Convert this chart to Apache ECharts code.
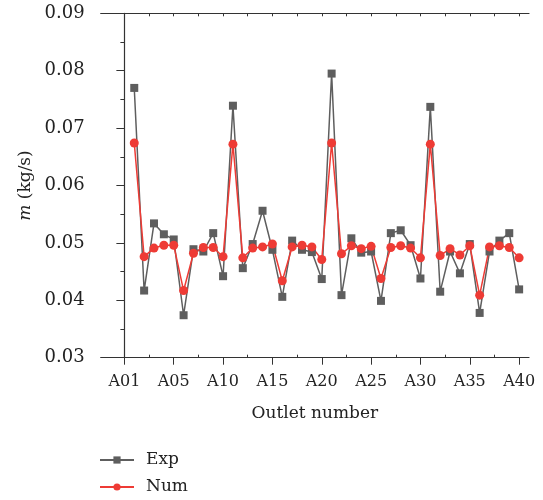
<!DOCTYPE html>
<html>
<head>
<meta charset="utf-8">
<script src="https://cdn.jsdelivr.net/npm/echarts@6/dist/echarts.min.js"></script>
<style>
  html, body { margin: 0; padding: 0; background: #fff; }
  #main { width: 543px; height: 500px; }
</style>
</head>
<body>
<div id="main"></div>
<script>
    // outlet index 1..40 (A01..A40)
    var outlets = [];
    for (var i = 1; i <= 40; i++) outlets.push(i);

    var expData = [0.0770, 0.0417, 0.0534, 0.0515, 0.0506, 0.0374, 0.0489, 0.0485, 0.0517, 0.0442,
                   0.0739, 0.0456, 0.0498, 0.0556, 0.0488, 0.0406, 0.0504, 0.0488, 0.0484, 0.0437,
                   0.0795, 0.0409, 0.0508, 0.0483, 0.0485, 0.0399, 0.0517, 0.0522, 0.0496, 0.0438,
                   0.0737, 0.0415, 0.0485, 0.0447, 0.0498, 0.0378, 0.0485, 0.0504, 0.0517, 0.0419];
    var numData = [0.0674, 0.0476, 0.0491, 0.0496, 0.0496, 0.0417, 0.0482, 0.0492, 0.0492, 0.0476,
                   0.0672, 0.0474, 0.0491, 0.0493, 0.0498, 0.0434, 0.0493, 0.0496, 0.0493, 0.0471,
                   0.0674, 0.0481, 0.0495, 0.0490, 0.0494, 0.0438, 0.0492, 0.0495, 0.0491, 0.0474,
                   0.0672, 0.0478, 0.0490, 0.0479, 0.0495, 0.0409, 0.0493, 0.0495, 0.0492, 0.0474];

    var tickValues = [0, 5, 10, 15, 20, 25, 30, 35, 40];
    var tickLabels = ['A01', 'A05', 'A10', 'A15', 'A20', 'A25', 'A30', 'A35', 'A40'];
    var minorValues = [2.5, 7.5, 12.5, 17.5, 22.5, 27.5, 32.5, 37.5];

    var font = 'DejaVu Serif';
    var ink = '#222';
    var gray = '#5e5e5e';
    var red = '#ee3b35';

    function pairs(vals) {
        var out = [];
        for (var k = 0; k < vals.length; k++) out.push([outlets[k], vals[k]]);
        return out;
    }

    var option = {
        animation: false,
        backgroundColor: '#fff',
        textStyle: { fontFamily: font },
        grid: { left: 100.7, right: 14, top: 13.3, bottom: 142.3 },
        legend: {
            orient: 'vertical',
            left: 99,
            top: 451,
            padding: 0,
            itemWidth: 34,
            itemHeight: 9,
            itemGap: 9,
            data: ['Exp', 'Num'],
            textStyle: { fontFamily: font, fontSize: 17, lineHeight: 18, color: ink, padding: [0, 0, 0, 7] }
        },
        xAxis: [
            {
                type: 'value',
                min: -2.4,
                max: 41,
                position: 'bottom',
                name: 'Outlet number',
                nameLocation: 'middle',
                nameGap: 47,
                nameTextStyle: { fontFamily: font, fontSize: 17, color: ink },
                splitLine: { show: false },
                axisLine: { lineStyle: { color: '#333', width: 1.2 } },
                axisTick: { customValues: tickValues, length: 7, lineStyle: { color: '#333' } },
                axisLabel: {
                    customValues: tickValues,
                    margin: 16,
                    fontFamily: font, fontSize: 16, color: ink,
                    formatter: function (v) {
                        var idx = tickValues.indexOf(v);
                        return idx >= 0 ? tickLabels[idx] : '';
                    }
                }
            },
            {
                type: 'value',
                min: -2.4,
                max: 41,
                position: 'top',
                splitLine: { show: false },
                axisLine: { lineStyle: { color: '#333', width: 1.2 } },
                axisTick: { inside: true, customValues: tickValues.concat(minorValues), length: 3, lineStyle: { color: '#333' } },
                axisLabel: { show: false }
            },
            {
                type: 'value',
                min: -2.4,
                max: 41,
                position: 'bottom',
                splitLine: { show: false },
                axisLine: { show: false },
                axisTick: { inside: true, customValues: minorValues, length: 3, lineStyle: { color: '#333' } },
                axisLabel: { show: false }
            }
        ],
        yAxis: {
            type: 'value',
            min: 0.03,
            max: 0.09,
            interval: 0.01,
            name: '{i|m} (kg/s)',
            nameLocation: 'middle',
            nameRotate: 90,
            nameGap: 63,
            nameTextStyle: {
                fontFamily: font, fontSize: 17, color: ink,
                rich: { i: { fontFamily: font, fontSize: 17, fontStyle: 'italic', color: ink } }
            },
            splitLine: { show: false },
            axisLine: { show: true, lineStyle: { color: '#333', width: 1.2 } },
            axisTick: { length: 8, lineStyle: { color: '#333' } },
            minorTick: { show: true, splitNumber: 2, length: 4, lineStyle: { color: '#333' } },
            axisLabel: {
                margin: 16,
                fontFamily: font, fontSize: 18, color: ink,
                formatter: function (v) { return v.toFixed(2); }
            }
        },
        series: [
            {
                name: 'Exp',
                type: 'line',
                data: pairs(expData),
                symbol: 'rect',
                symbolSize: 8,
                itemStyle: { color: gray },
                lineStyle: { color: gray, width: 1.5 }
            },
            {
                name: 'Num',
                type: 'line',
                data: pairs(numData),
                symbol: 'circle',
                symbolSize: 9,
                itemStyle: { color: red },
                lineStyle: { color: red, width: 1.5 }
            }
        ]
    };

    var myChart = echarts.init(document.getElementById('main'));
    myChart.setOption(option);
</script>
</body>
</html>
